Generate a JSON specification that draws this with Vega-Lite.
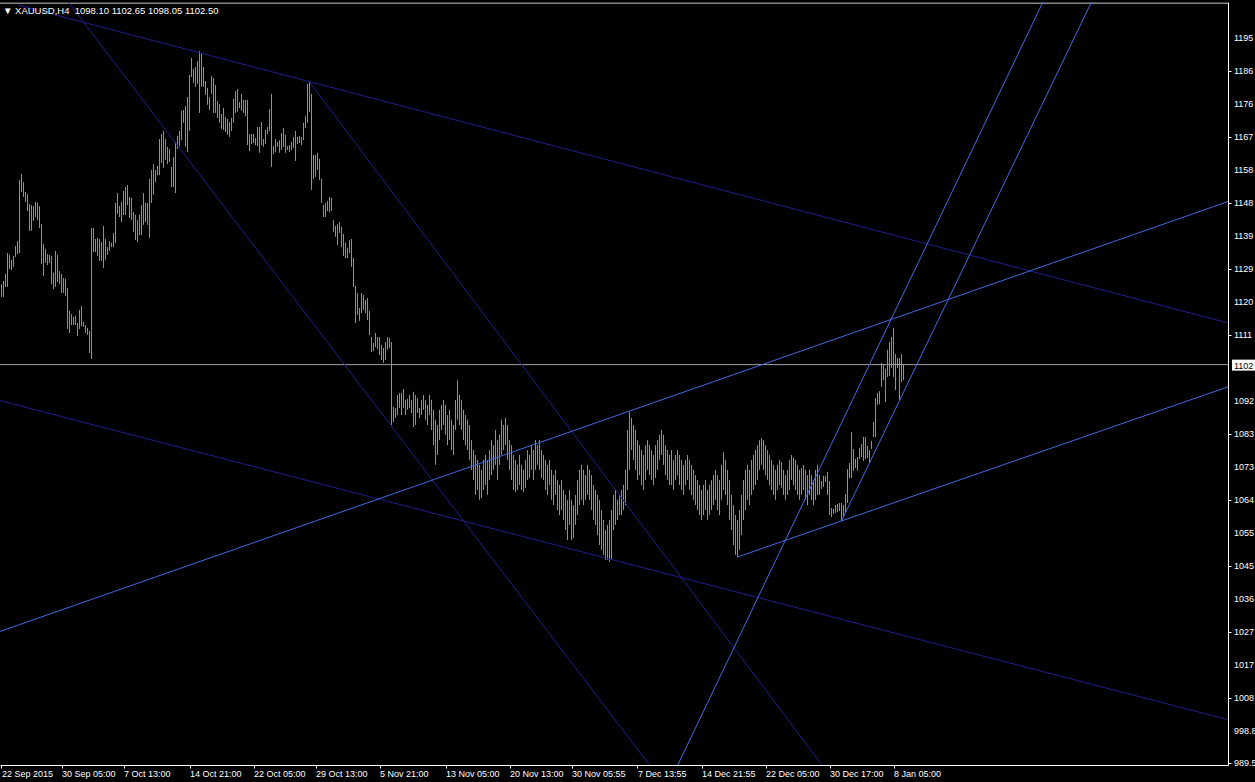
{
"$schema": "https://vega.github.io/schema/vega-lite/v6.json",
"width": 1228, "height": 763,
"autosize": {"type": "none"},
"padding": {"left": 0, "top": 2, "right": 27, "bottom": 17},
"background": "#000000",
"config": {"view": {"stroke": null}, "axis": {"grid": false}},
"datasets": {
"bars": [
{"i":0,"l":1121.7,"h":1125.3},{"i":1,"l":1121.7,"h":1126.2},{"i":2,"l":1124.5,"h":1128.2},{"i":3,"l":1124.5,"h":1134.1},{"i":4,"l":1129.6,"h":1133.6},{"i":5,"l":1129.3,"h":1132.2},{"i":6,"l":1130.2,"h":1133.3},{"i":7,"l":1133.0,"h":1136.1},{"i":8,"l":1133.8,"h":1137.5},{"i":9,"l":1134.1,"h":1154.8},
{"i":10,"l":1151.4,"h":1156.5},{"i":11,"l":1150.0,"h":1154.2},{"i":12,"l":1148.6,"h":1151.4},{"i":13,"l":1146.0,"h":1150.8},{"i":14,"l":1140.4,"h":1148.0},{"i":15,"l":1140.4,"h":1147.7},{"i":16,"l":1143.2,"h":1147.4},{"i":17,"l":1144.3,"h":1148.6},{"i":18,"l":1143.5,"h":1148.3},{"i":19,"l":1141.2,"h":1147.4},
{"i":20,"l":1131.0,"h":1142.3},{"i":21,"l":1127.6,"h":1136.7},{"i":22,"l":1131.3,"h":1135.3},{"i":23,"l":1130.7,"h":1133.8},{"i":24,"l":1131.3,"h":1133.6},{"i":25,"l":1125.3,"h":1133.3},{"i":26,"l":1123.9,"h":1128.5},{"i":27,"l":1124.5,"h":1134.7},{"i":28,"l":1125.9,"h":1133.6},{"i":29,"l":1125.3,"h":1129.0},
{"i":30,"l":1122.8,"h":1128.2},{"i":31,"l":1122.8,"h":1127.0},{"i":32,"l":1121.9,"h":1126.8},{"i":33,"l":1112.6,"h":1124.2},{"i":34,"l":1111.5,"h":1117.7},{"i":35,"l":1113.7,"h":1116.8},{"i":36,"l":1113.7,"h":1116.0},{"i":37,"l":1113.7,"h":1116.3},{"i":38,"l":1110.6,"h":1114.3},{"i":39,"l":1112.6,"h":1118.0},
{"i":40,"l":1113.4,"h":1119.1},{"i":41,"l":1113.2,"h":1114.6},{"i":42,"l":1111.5,"h":1113.7},{"i":43,"l":1110.9,"h":1112.9},{"i":44,"l":1105.8,"h":1112.0},{"i":45,"l":1104.1,"h":1141.2},{"i":46,"l":1134.4,"h":1141.2},{"i":47,"l":1134.4,"h":1138.1},{"i":48,"l":1133.3,"h":1138.4},{"i":49,"l":1131.9,"h":1138.1},
{"i":50,"l":1131.9,"h":1137.2},{"i":51,"l":1129.9,"h":1141.8},{"i":52,"l":1132.2,"h":1138.1},{"i":53,"l":1133.6,"h":1135.8},{"i":54,"l":1134.7,"h":1137.5},{"i":55,"l":1135.8,"h":1137.0},{"i":56,"l":1135.8,"h":1139.8},{"i":57,"l":1137.0,"h":1148.3},{"i":58,"l":1145.2,"h":1151.1},{"i":59,"l":1144.3,"h":1147.4},
{"i":60,"l":1142.9,"h":1148.6},{"i":61,"l":1144.9,"h":1151.7},{"i":62,"l":1144.9,"h":1152.8},{"i":63,"l":1147.7,"h":1153.4},{"i":64,"l":1144.0,"h":1150.0},{"i":65,"l":1143.5,"h":1149.7},{"i":66,"l":1140.1,"h":1145.7},{"i":67,"l":1137.8,"h":1144.9},{"i":68,"l":1137.2,"h":1143.5},{"i":69,"l":1139.2,"h":1144.9},
{"i":70,"l":1139.2,"h":1147.7},{"i":71,"l":1142.1,"h":1151.1},{"i":72,"l":1142.9,"h":1148.3},{"i":73,"l":1142.1,"h":1148.3},{"i":74,"l":1138.4,"h":1155.1},{"i":75,"l":1148.3,"h":1157.6},{"i":76,"l":1150.6,"h":1159.3},{"i":77,"l":1154.2,"h":1157.6},{"i":78,"l":1156.2,"h":1158.8},{"i":79,"l":1156.2,"h":1166.4},
{"i":80,"l":1159.6,"h":1167.8},{"i":81,"l":1158.2,"h":1168.7},{"i":82,"l":1160.5,"h":1166.4},{"i":83,"l":1159.3,"h":1164.2},{"i":84,"l":1159.9,"h":1163.6},{"i":85,"l":1152.8,"h":1158.5},{"i":86,"l":1152.8,"h":1161.3},{"i":87,"l":1151.1,"h":1165.6},{"i":88,"l":1163.6,"h":1167.3},{"i":89,"l":1164.4,"h":1168.7},
{"i":90,"l":1166.1,"h":1174.4},{"i":91,"l":1171.0,"h":1174.6},{"i":92,"l":1164.2,"h":1175.8},{"i":93,"l":1162.7,"h":1178.3},{"i":94,"l":1168.7,"h":1184.6},{"i":95,"l":1184.0,"h":1189.4},{"i":96,"l":1182.3,"h":1186.3},{"i":97,"l":1181.2,"h":1186.8},{"i":98,"l":1182.0,"h":1188.5},{"i":99,"l":1173.8,"h":1191.3},
{"i":100,"l":1181.2,"h":1190.8},{"i":101,"l":1181.2,"h":1186.8},{"i":102,"l":1178.9,"h":1182.8},{"i":103,"l":1176.1,"h":1180.9},{"i":104,"l":1174.6,"h":1178.3},{"i":105,"l":1179.2,"h":1184.3},{"i":106,"l":1173.8,"h":1183.7},{"i":107,"l":1173.8,"h":1181.7},{"i":108,"l":1172.4,"h":1177.2},{"i":109,"l":1171.0,"h":1176.3},
{"i":110,"l":1169.3,"h":1173.5},{"i":111,"l":1169.0,"h":1175.2},{"i":112,"l":1168.4,"h":1172.7},{"i":113,"l":1167.6,"h":1172.1},{"i":114,"l":1167.0,"h":1171.2},{"i":115,"l":1168.7,"h":1172.4},{"i":116,"l":1171.0,"h":1177.8},{"i":117,"l":1173.8,"h":1180.0},{"i":118,"l":1174.1,"h":1180.6},{"i":119,"l":1175.2,"h":1176.9},
{"i":120,"l":1174.4,"h":1179.2},{"i":121,"l":1173.8,"h":1177.5},{"i":122,"l":1172.9,"h":1177.5},{"i":123,"l":1164.7,"h":1177.5},{"i":124,"l":1163.0,"h":1167.8},{"i":125,"l":1165.0,"h":1167.8},{"i":126,"l":1165.3,"h":1167.8},{"i":127,"l":1164.7,"h":1166.7},{"i":128,"l":1164.4,"h":1169.8},{"i":129,"l":1162.5,"h":1169.8},
{"i":130,"l":1164.7,"h":1171.2},{"i":131,"l":1164.2,"h":1166.4},{"i":132,"l":1165.0,"h":1169.0},{"i":133,"l":1167.8,"h":1169.8},{"i":134,"l":1168.7,"h":1174.9},{"i":135,"l":1158.5,"h":1179.2},{"i":136,"l":1162.2,"h":1164.4},{"i":137,"l":1162.7,"h":1166.4},{"i":138,"l":1164.2,"h":1165.6},{"i":139,"l":1162.5,"h":1166.1},
{"i":140,"l":1163.3,"h":1168.1},{"i":141,"l":1164.2,"h":1169.5},{"i":142,"l":1162.5,"h":1167.6},{"i":143,"l":1163.3,"h":1164.4},{"i":144,"l":1162.7,"h":1164.7},{"i":145,"l":1163.3,"h":1165.6},{"i":146,"l":1163.9,"h":1167.0},{"i":147,"l":1160.2,"h":1168.7},{"i":148,"l":1165.0,"h":1167.0},{"i":149,"l":1165.3,"h":1167.3},
{"i":150,"l":1164.7,"h":1167.0},{"i":151,"l":1166.1,"h":1171.0},{"i":152,"l":1169.5,"h":1172.9},{"i":153,"l":1171.0,"h":1182.0},{"i":154,"l":1174.1,"h":1182.6},{"i":155,"l":1152.0,"h":1179.2},{"i":156,"l":1155.1,"h":1161.9},{"i":157,"l":1155.7,"h":1161.9},{"i":158,"l":1157.6,"h":1162.5},{"i":159,"l":1154.8,"h":1160.8},
{"i":160,"l":1148.3,"h":1155.1},{"i":161,"l":1144.3,"h":1147.7},{"i":162,"l":1144.3,"h":1148.3},{"i":163,"l":1146.0,"h":1148.9},{"i":164,"l":1145.7,"h":1150.0},{"i":165,"l":1146.0,"h":1149.7},{"i":166,"l":1140.1,"h":1143.5},{"i":167,"l":1138.7,"h":1141.8},{"i":168,"l":1136.4,"h":1142.3},{"i":169,"l":1139.8,"h":1142.9},
{"i":170,"l":1135.8,"h":1141.5},{"i":171,"l":1133.3,"h":1139.5},{"i":172,"l":1132.7,"h":1137.0},{"i":173,"l":1132.7,"h":1135.5},{"i":174,"l":1134.1,"h":1137.8},{"i":175,"l":1130.2,"h":1138.1},{"i":176,"l":1124.5,"h":1132.7},{"i":177,"l":1114.3,"h":1124.8},{"i":178,"l":1116.6,"h":1122.8},{"i":179,"l":1114.9,"h":1118.5},
{"i":180,"l":1117.1,"h":1122.8},{"i":181,"l":1118.0,"h":1122.2},{"i":182,"l":1117.1,"h":1120.8},{"i":183,"l":1115.1,"h":1121.4},{"i":184,"l":1110.9,"h":1117.7},{"i":185,"l":1106.1,"h":1110.3},{"i":186,"l":1106.4,"h":1108.6},{"i":187,"l":1107.5,"h":1111.5},{"i":188,"l":1106.9,"h":1110.3},{"i":189,"l":1105.2,"h":1110.3},
{"i":190,"l":1103.8,"h":1108.1},{"i":191,"l":1103.0,"h":1107.2},{"i":192,"l":1103.8,"h":1108.9},{"i":193,"l":1106.7,"h":1110.3},{"i":194,"l":1107.2,"h":1110.0},{"i":195,"l":1085.4,"h":1108.9},{"i":196,"l":1086.3,"h":1090.5},{"i":197,"l":1087.4,"h":1090.2},{"i":198,"l":1088.2,"h":1093.9},{"i":199,"l":1090.2,"h":1094.5},
{"i":200,"l":1088.2,"h":1094.5},{"i":201,"l":1090.2,"h":1095.6},{"i":202,"l":1088.2,"h":1092.5},{"i":203,"l":1089.7,"h":1092.8},{"i":204,"l":1090.2,"h":1093.9},{"i":205,"l":1088.8,"h":1092.5},{"i":206,"l":1084.8,"h":1094.8},{"i":207,"l":1085.4,"h":1093.9},{"i":208,"l":1088.8,"h":1093.0},{"i":209,"l":1087.4,"h":1090.2},
{"i":210,"l":1088.2,"h":1092.5},{"i":211,"l":1089.7,"h":1093.9},{"i":212,"l":1086.9,"h":1092.5},{"i":213,"l":1085.4,"h":1091.1},{"i":214,"l":1088.2,"h":1093.9},{"i":215,"l":1084.0,"h":1092.5},{"i":216,"l":1079.7,"h":1089.7},{"i":217,"l":1074.1,"h":1086.9},{"i":218,"l":1076.9,"h":1085.4},{"i":219,"l":1081.1,"h":1089.7},
{"i":220,"l":1084.0,"h":1091.1},{"i":221,"l":1085.4,"h":1092.5},{"i":222,"l":1082.6,"h":1091.1},{"i":223,"l":1079.7,"h":1088.2},{"i":224,"l":1081.1,"h":1089.7},{"i":225,"l":1078.3,"h":1086.9},{"i":226,"l":1076.9,"h":1085.4},{"i":227,"l":1084.0,"h":1092.5},{"i":228,"l":1086.9,"h":1098.1},{"i":229,"l":1085.4,"h":1093.9},
{"i":230,"l":1084.0,"h":1092.5},{"i":231,"l":1081.1,"h":1089.7},{"i":232,"l":1079.7,"h":1088.2},{"i":233,"l":1078.3,"h":1086.9},{"i":234,"l":1075.5,"h":1085.4},{"i":235,"l":1072.7,"h":1081.1},{"i":236,"l":1069.8,"h":1078.3},{"i":237,"l":1065.6,"h":1076.9},{"i":238,"l":1067.0,"h":1075.5},{"i":239,"l":1064.2,"h":1074.1},
{"i":240,"l":1064.7,"h":1072.7},{"i":241,"l":1067.0,"h":1075.5},{"i":242,"l":1068.4,"h":1076.9},{"i":243,"l":1065.6,"h":1075.5},{"i":244,"l":1069.8,"h":1078.3},{"i":245,"l":1071.2,"h":1081.1},{"i":246,"l":1072.7,"h":1079.7},{"i":247,"l":1074.1,"h":1084.0},{"i":248,"l":1069.8,"h":1081.1},{"i":249,"l":1074.1,"h":1082.6},
{"i":250,"l":1076.9,"h":1086.9},{"i":251,"l":1078.3,"h":1085.4},{"i":252,"l":1079.7,"h":1087.4},{"i":253,"l":1075.5,"h":1085.4},{"i":254,"l":1072.7,"h":1081.1},{"i":255,"l":1069.8,"h":1079.7},{"i":256,"l":1067.0,"h":1076.9},{"i":257,"l":1066.4,"h":1075.5},{"i":258,"l":1067.0,"h":1074.1},{"i":259,"l":1068.4,"h":1076.9},
{"i":260,"l":1067.0,"h":1074.1},{"i":261,"l":1066.4,"h":1072.7},{"i":262,"l":1067.6,"h":1075.5},{"i":263,"l":1069.8,"h":1078.3},{"i":264,"l":1070.4,"h":1076.9},{"i":265,"l":1072.7,"h":1079.7},{"i":266,"l":1069.8,"h":1078.3},{"i":267,"l":1072.7,"h":1081.1},{"i":268,"l":1074.1,"h":1079.7},{"i":269,"l":1072.7,"h":1081.1},
{"i":270,"l":1070.4,"h":1078.3},{"i":271,"l":1069.8,"h":1076.9},{"i":272,"l":1067.0,"h":1075.5},{"i":273,"l":1065.6,"h":1074.1},{"i":274,"l":1068.4,"h":1075.5},{"i":275,"l":1064.2,"h":1072.7},{"i":276,"l":1062.7,"h":1071.2},{"i":277,"l":1065.6,"h":1072.7},{"i":278,"l":1061.3,"h":1069.8},{"i":279,"l":1059.9,"h":1068.4},
{"i":280,"l":1061.3,"h":1069.8},{"i":281,"l":1058.5,"h":1067.0},{"i":282,"l":1055.6,"h":1065.6},{"i":283,"l":1052.8,"h":1064.2},{"i":284,"l":1057.1,"h":1067.0},{"i":285,"l":1052.8,"h":1064.2},{"i":286,"l":1053.4,"h":1062.7},{"i":287,"l":1057.1,"h":1065.6},{"i":288,"l":1059.9,"h":1069.8},{"i":289,"l":1062.7,"h":1072.7},
{"i":290,"l":1064.2,"h":1074.1},{"i":291,"l":1062.7,"h":1072.7},{"i":292,"l":1064.2,"h":1071.2},{"i":293,"l":1065.6,"h":1074.1},{"i":294,"l":1064.2,"h":1072.7},{"i":295,"l":1061.3,"h":1071.2},{"i":296,"l":1058.5,"h":1068.4},{"i":297,"l":1057.1,"h":1067.0},{"i":298,"l":1054.2,"h":1065.6},{"i":299,"l":1051.4,"h":1064.2},
{"i":300,"l":1050.0,"h":1061.3},{"i":301,"l":1048.6,"h":1058.5},{"i":302,"l":1047.2,"h":1055.6},{"i":303,"l":1047.2,"h":1057.1},{"i":304,"l":1046.6,"h":1058.5},{"i":305,"l":1047.2,"h":1061.3},{"i":306,"l":1055.6,"h":1065.6},{"i":307,"l":1057.1,"h":1067.0},{"i":308,"l":1058.5,"h":1064.2},{"i":309,"l":1059.9,"h":1065.6},
{"i":310,"l":1059.9,"h":1067.0},{"i":311,"l":1061.3,"h":1068.4},{"i":312,"l":1062.7,"h":1072.7},{"i":313,"l":1067.0,"h":1084.0},{"i":314,"l":1072.7,"h":1089.1},{"i":315,"l":1078.3,"h":1087.4},{"i":316,"l":1075.5,"h":1085.4},{"i":317,"l":1072.7,"h":1084.0},{"i":318,"l":1069.8,"h":1081.1},{"i":319,"l":1071.2,"h":1079.7},
{"i":320,"l":1068.4,"h":1078.3},{"i":321,"l":1067.0,"h":1076.9},{"i":322,"l":1069.8,"h":1079.7},{"i":323,"l":1072.7,"h":1081.1},{"i":324,"l":1071.2,"h":1079.7},{"i":325,"l":1069.8,"h":1078.3},{"i":326,"l":1068.4,"h":1076.9},{"i":327,"l":1070.4,"h":1079.7},{"i":328,"l":1072.7,"h":1081.1},{"i":329,"l":1075.5,"h":1082.6},
{"i":330,"l":1076.9,"h":1084.0},{"i":331,"l":1074.1,"h":1082.6},{"i":332,"l":1071.2,"h":1079.7},{"i":333,"l":1069.8,"h":1078.3},{"i":334,"l":1068.4,"h":1076.9},{"i":335,"l":1068.4,"h":1078.3},{"i":336,"l":1067.0,"h":1075.5},{"i":337,"l":1069.8,"h":1076.9},{"i":338,"l":1071.2,"h":1078.3},{"i":339,"l":1068.4,"h":1076.9},
{"i":340,"l":1067.0,"h":1075.5},{"i":341,"l":1065.6,"h":1074.1},{"i":342,"l":1068.4,"h":1075.5},{"i":343,"l":1069.8,"h":1076.9},{"i":344,"l":1067.0,"h":1075.5},{"i":345,"l":1065.6,"h":1074.1},{"i":346,"l":1064.2,"h":1072.7},{"i":347,"l":1062.7,"h":1071.2},{"i":348,"l":1061.3,"h":1069.8},{"i":349,"l":1059.9,"h":1068.4},
{"i":350,"l":1058.5,"h":1067.0},{"i":351,"l":1059.9,"h":1068.4},{"i":352,"l":1061.3,"h":1069.8},{"i":353,"l":1058.5,"h":1067.0},{"i":354,"l":1059.9,"h":1068.4},{"i":355,"l":1061.3,"h":1069.8},{"i":356,"l":1062.7,"h":1071.2},{"i":357,"l":1064.2,"h":1072.7},{"i":358,"l":1061.3,"h":1071.2},{"i":359,"l":1059.9,"h":1069.8},
{"i":360,"l":1064.2,"h":1074.1},{"i":361,"l":1067.0,"h":1077.7},{"i":362,"l":1065.6,"h":1075.5},{"i":363,"l":1062.7,"h":1072.7},{"i":364,"l":1058.5,"h":1069.8},{"i":365,"l":1055.6,"h":1065.6},{"i":366,"l":1051.4,"h":1062.7},{"i":367,"l":1048.6,"h":1059.9},{"i":368,"l":1048.0,"h":1058.5},{"i":369,"l":1050.0,"h":1061.3},
{"i":370,"l":1054.2,"h":1065.6},{"i":371,"l":1058.5,"h":1069.8},{"i":372,"l":1061.3,"h":1072.7},{"i":373,"l":1064.2,"h":1074.1},{"i":374,"l":1062.7,"h":1072.7},{"i":375,"l":1065.6,"h":1075.5},{"i":376,"l":1067.0,"h":1076.9},{"i":377,"l":1068.4,"h":1078.3},{"i":378,"l":1069.8,"h":1079.7},{"i":379,"l":1072.7,"h":1081.1},
{"i":380,"l":1074.1,"h":1081.7},{"i":381,"l":1072.7,"h":1081.1},{"i":382,"l":1071.2,"h":1079.7},{"i":383,"l":1069.8,"h":1078.3},{"i":384,"l":1068.4,"h":1076.9},{"i":385,"l":1067.0,"h":1075.5},{"i":386,"l":1065.6,"h":1074.1},{"i":387,"l":1064.2,"h":1072.7},{"i":388,"l":1067.0,"h":1074.1},{"i":389,"l":1068.4,"h":1075.5},
{"i":390,"l":1067.6,"h":1074.9},{"i":391,"l":1065.6,"h":1072.7},{"i":392,"l":1064.2,"h":1071.2},{"i":393,"l":1065.6,"h":1072.7},{"i":394,"l":1067.0,"h":1075.5},{"i":395,"l":1069.8,"h":1076.9},{"i":396,"l":1068.4,"h":1076.1},{"i":397,"l":1067.0,"h":1075.5},{"i":398,"l":1065.6,"h":1074.1},{"i":399,"l":1064.2,"h":1072.7},
{"i":400,"l":1065.6,"h":1073.2},{"i":401,"l":1067.0,"h":1074.1},{"i":402,"l":1064.2,"h":1072.7},{"i":403,"l":1062.7,"h":1071.2},{"i":404,"l":1065.6,"h":1072.7},{"i":405,"l":1064.2,"h":1071.2},{"i":406,"l":1062.7,"h":1069.8},{"i":407,"l":1064.2,"h":1072.7},{"i":408,"l":1065.6,"h":1074.1},{"i":409,"l":1065.6,"h":1071.2},
{"i":410,"l":1067.3,"h":1069.5},{"i":411,"l":1067.8,"h":1071.0},{"i":412,"l":1069.3,"h":1071.0},{"i":413,"l":1065.6,"h":1072.1},{"i":414,"l":1059.9,"h":1069.5},{"i":415,"l":1059.3,"h":1061.9},{"i":416,"l":1060.2,"h":1061.6},{"i":417,"l":1060.5,"h":1062.7},{"i":418,"l":1060.7,"h":1063.0},{"i":419,"l":1061.0,"h":1063.3},
{"i":420,"l":1058.2,"h":1063.3},{"i":421,"l":1059.3,"h":1062.7},{"i":422,"l":1060.5,"h":1065.9},{"i":423,"l":1063.3,"h":1072.9},{"i":424,"l":1070.4,"h":1074.6},{"i":425,"l":1070.4,"h":1083.4},{"i":426,"l":1072.4,"h":1078.6},{"i":427,"l":1073.2,"h":1075.8},{"i":428,"l":1072.4,"h":1076.3},{"i":429,"l":1075.8,"h":1078.9},
{"i":430,"l":1076.3,"h":1080.0},{"i":431,"l":1075.2,"h":1082.0},{"i":432,"l":1075.8,"h":1082.0},{"i":433,"l":1076.1,"h":1079.5},{"i":434,"l":1074.6,"h":1078.3},{"i":435,"l":1078.6,"h":1080.9},{"i":436,"l":1082.0,"h":1086.3},{"i":437,"l":1082.0,"h":1093.0},{"i":438,"l":1091.1,"h":1094.5},{"i":439,"l":1091.3,"h":1095.0},
{"i":440,"l":1096.2,"h":1103.0},{"i":441,"l":1098.1,"h":1102.7},{"i":442,"l":1091.9,"h":1101.3},{"i":443,"l":1099.0,"h":1106.7},{"i":444,"l":1099.3,"h":1108.9},{"i":445,"l":1101.5,"h":1110.3},{"i":446,"l":1099.0,"h":1112.9},{"i":447,"l":1095.3,"h":1105.5},{"i":448,"l":1101.5,"h":1104.4},{"i":449,"l":1092.5,"h":1104.4},
{"i":450,"l":1097.6,"h":1105.5},{"i":451,"l":1098.05,"h":1102.65}
],
"lines": [
{"id":"L1","i":8,"p":1204.4},{"id":"L1","i":613.25,"p":1114.3},
{"id":"L2","i":-0.75,"p":1092.3},{"id":"L2","i":613.25,"p":1001.9},
{"id":"L3","i":33,"p":1205.5},{"id":"L3","i":330,"p":984.6},
{"id":"L4","i":154,"p":1182.6},{"id":"L4","i":416,"p":984.7},
{"id":"L5","i":-0.75,"p":1026.9},{"id":"L5","i":613.25,"p":1148.7},
{"id":"L6","i":368,"p":1048.0},{"id":"L6","i":613.25,"p":1096.2},
{"id":"L7","i":332,"p":981.8},{"id":"L7","i":525,"p":1210.3},
{"id":"L8","i":420,"p":1058.2},{"id":"L8","i":550,"p":1211.1}
],
"yticks": [
{"v":989.5,"t":"989.5"},{"v":998.84,"t":"998.8"},{"v":1008.18,"t":"1008"},{"v":1017.52,"t":"1017"},{"v":1026.86,"t":"1027"},{"v":1036.2,"t":"1036"},{"v":1045.55,"t":"1045"},{"v":1054.89,"t":"1055"},{"v":1064.23,"t":"1064"},{"v":1073.57,"t":"1073"},{"v":1082.91,"t":"1083"},{"v":1092.25,"t":"1092"},{"v":1110.93,"t":"1111"},{"v":1120.27,"t":"1120"},{"v":1129.61,"t":"1129"},{"v":1138.95,"t":"1139"},{"v":1148.3,"t":"1148"},{"v":1157.64,"t":"1158"},{"v":1166.98,"t":"1167"},{"v":1176.32,"t":"1176"},{"v":1185.66,"t":"1186"},{"v":1195,"t":"1195"}
],
"bid": [{"p":1102.5,"t":"1102"}],
"head": [{"t":"▼ XAUUSD,H4\u00a0 1098.10 1102.65 1098.05 1102.50"}]
},
"layer": [
{
"data": {"name": "bars"},
"mark": {"type": "rule", "color": "#32d232", "strokeWidth": 1},
"encoding": {
"x": {"field": "i", "type": "quantitative", "scale": {"domain": [-0.75, 613.25], "nice": false, "zero": false},
"axis": {"orient": "bottom", "title": null, "values": [0,30,61,94,126,157,189,222,254,285,318,350,382,414,446],
"labelExpr": "['22 Sep 2015','30 Sep 05:00','7 Oct 13:00','14 Oct 21:00','22 Oct 05:00','29 Oct 13:00','5 Nov 21:00','13 Nov 05:00','20 Nov 13:00','30 Nov 05:55','7 Dec 13:55','14 Dec 21:55','22 Dec 05:00','30 Dec 17:00','8 Jan 05:00'][indexof([0,30,61,94,126,157,189,222,254,285,318,350,382,414,446], datum.value)]",
"domainColor": "#ffffff", "domainWidth": 1, "tickColor": "#ffffff", "tickSize": 3, "labelColor": "#ffffff", "labelFont": "Liberation Sans", "labelFontSize": 9, "labelAlign": "left", "labelBaseline": "top", "labelPadding": 1, "labelOverlap": false, "labelFlush": false, "labelBound": false, "grid": false}},
"y": {"field": "l", "type": "quantitative", "scale": {"domain": [989.07, 1205.23], "nice": false, "zero": false},
"axis": {"orient": "right", "title": null, "values": [989.5,998.84,1008.18,1017.52,1026.86,1036.2,1045.55,1054.89,1064.23,1073.57,1082.91,1092.25,1110.93,1120.27,1129.61,1138.95,1148.3,1157.64,1166.98,1176.32,1185.66,1195],
"labels": false, "domainColor": "#ffffff", "domainWidth": 1, "tickColor": "#ffffff", "tickSize": 3, "grid": false}},
"y2": {"field": "h"}
}
},
{
"data": {"name": "yticks"},
"mark": {"type": "text", "color": "#ffffff", "font": "Liberation Sans", "fontSize": 9, "align": "left", "baseline": "middle", "dx": 6},
"encoding": {
"x": {"datum": 613.25, "type": "quantitative"},
"y": {"field": "v", "type": "quantitative"},
"text": {"field": "t"}
}
},
{
"data": {"values": [{"p": 1204.9}]},
"mark": {"type": "rule", "color": "#c8c8c8", "strokeWidth": 1},
"encoding": {"y": {"field": "p", "type": "quantitative"}}
},
{
"data": {"name": "bid"},
"mark": {"type": "rule", "color": "#a0a0a0", "strokeWidth": 1},
"encoding": {"y": {"field": "p", "type": "quantitative"}}
},
{
"data": {"name": "lines"},
"mark": {"type": "line", "strokeWidth": 1, "clip": true},
"encoding": {
"x": {"field": "i", "type": "quantitative"},
"y": {"field": "p", "type": "quantitative"},
"color": {"field": "id", "type": "nominal", "legend": null, "scale": {"domain": ["L1","L2","L3","L4","L5","L6","L7","L8"], "range": ["#1e1e8c","#1e1e8c","#1e1e8c","#1e1e8c","#4169e1","#4169e1","#4169e1","#4169e1"]}}
}
},
{
"data": {"name": "bid"},
"mark": {"type": "rect", "color": "#ffffff", "xOffset": 4, "x2Offset": 27, "yOffset": -5, "y2Offset": 6},
"encoding": {
"x": {"datum": 613.25, "type": "quantitative"},
"x2": {"datum": 613.25},
"y": {"field": "p", "type": "quantitative"},
"y2": {"field": "p"}
}
},
{
"data": {"name": "bid"},
"mark": {"type": "text", "color": "#000000", "font": "Liberation Sans", "fontSize": 9, "align": "left", "baseline": "middle", "dx": 6, "dy": 1},
"encoding": {
"x": {"datum": 613.25, "type": "quantitative"},
"y": {"field": "p", "type": "quantitative"},
"text": {"field": "t"}
}
},
{
"data": {"name": "head"},
"mark": {"type": "text", "color": "#ffffff", "font": "Liberation Sans", "fontSize": 9.5, "align": "left", "baseline": "middle", "dx": 3, "dy": 9},
"encoding": {
"x": {"datum": -0.75, "type": "quantitative"},
"y": {"datum": 1205.23, "type": "quantitative"},
"text": {"field": "t"}
}
}
]
}
